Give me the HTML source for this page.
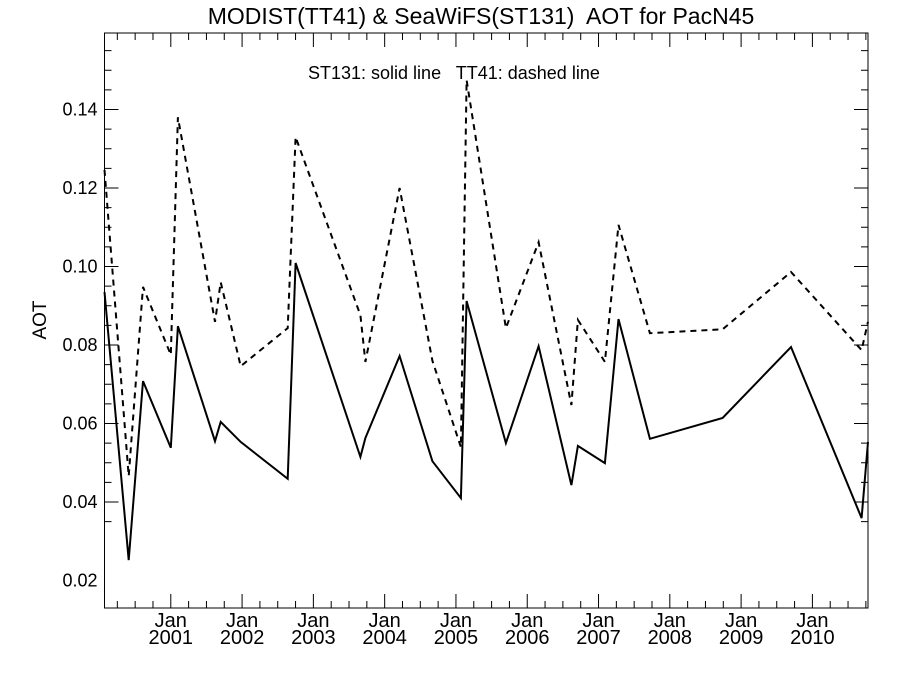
<!DOCTYPE html>
<html><head><meta charset="utf-8"><style>body{margin:0;background:#fff}svg{display:block;font-family:"Liberation Sans",sans-serif}text{white-space:pre}</style></head>
<body>
<svg id="c" width="900" height="675"></svg>
<script>
const times=[2000.07,2000.41,2000.61,2001.0,2001.10,2001.62,2001.70,2001.98,2002.64,2002.75,2003.66,2003.73,2004.21,2004.67,2005.07,2005.15,2005.70,2006.16,2006.62,2006.71,2007.09,2007.28,2007.72,2008.74,2009.70,2010.69,2010.78];
const st131=[0.0935,0.0252,0.0708,0.0538,0.0848,0.0555,0.0604,0.0553,0.0459,0.1009,0.0515,0.0563,0.0772,0.0504,0.041,0.0912,0.055,0.0797,0.0443,0.0543,0.0499,0.0866,0.0561,0.0614,0.0795,0.0359,0.0553];
const tt41=[0.1246,0.0466,0.0948,0.0775,0.138,0.0859,0.096,0.0746,0.0843,0.133,0.0876,0.0757,0.120,0.076,0.054,0.1475,0.0843,0.1062,0.0647,0.0864,0.0757,0.1106,0.083,0.084,0.0986,0.0787,0.0859];
const yTicks=[0.02,0.04,0.06,0.08,0.10,0.12,0.14];
const years=[2001,2002,2003,2004,2005,2006,2007,2008,2009,2010];
const L=104.5,R=868,T=33,B=608,t0=2000.07,t1=2010.78;
const X=t=>L+(t-t0)/(t1-t0)*(R-L);
const Y=v=>659-v*3925;
const svg=document.getElementById('c');const NS='http://www.w3.org/2000/svg';
function mk(tag,at,txt){const e=document.createElementNS(NS,tag);for(const k in at)e.setAttribute(k,at[k]);if(txt!=null)e.textContent=txt;svg.appendChild(e);return e;}
let e=mk('rect',{x:L,y:T,width:R-L,height:B-T,fill:'none',stroke:'#000','stroke-width':1});

let d='';
for(let v=0.035;v<=0.18;v+=0.005){const y=Y(v);if(y<T||y>B)continue;const maj=Math.abs(v*50-Math.round(v*50))<1e-6;const len=maj?14:7;d+=`M${L} ${y}h${len}M${R} ${y}h${-len}`;}
for(let q=Math.ceil(t0*4);q<=t1*4;q++){const t=q/4,x=X(t);const maj=q%4==0;const len=maj?14:7;d+=`M${x} ${B}v${-len}M${x} ${T}v${len}`;}
e=mk('path',{d:d,stroke:'#000','stroke-width':1,fill:'none'});

yTicks.forEach(v=>{const t=mk('text',{x:L-7,y:Y(v)+6,'text-anchor':'end','font-size':18},v.toFixed(2));
});
years.forEach(yr=>{const x=X(yr);
let a=mk('text',{x:x,y:627,'text-anchor':'middle','font-size':20},'Jan');

let b=mk('text',{x:x,y:644,'text-anchor':'middle','font-size':20},String(yr));
});
function line(vals,dash,name){const p=times.map((t,i)=>(i?'L':'M')+X(t).toFixed(1)+' '+Y(vals[i]).toFixed(1)).join('');
const l=mk('path',{d:p,fill:'none',stroke:'#000','stroke-width':2,'stroke-dasharray':dash||'none'});
}
line(st131,null,'st131-solid-line');
line(tt41,'6,5','tt41-dashed-line');
e=mk('text',{x:481,y:24,'text-anchor':'middle','font-size':23},'MODIST(TT41) & SeaWiFS(ST131)  AOT for PacN45');

e=mk('text',{x:308,y:79,'font-size':18},'ST131: solid line   TT41: dashed line');

e=mk('text',{x:0,y:0,'font-size':19,'text-anchor':'middle',transform:'translate(46,320) rotate(-90)'},'AOT');

</script>
</body></html>
